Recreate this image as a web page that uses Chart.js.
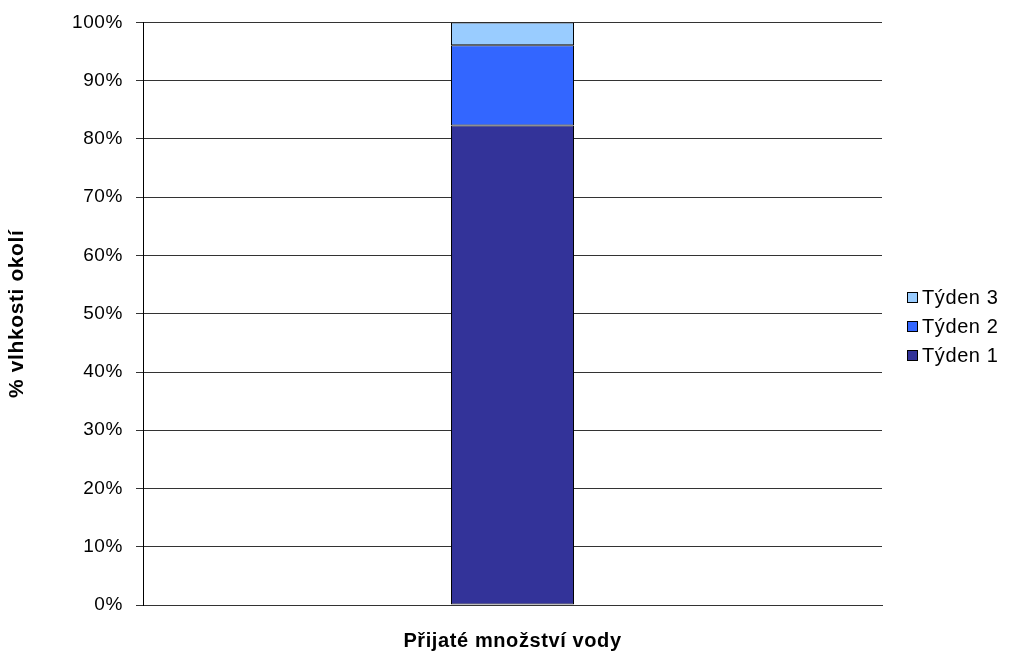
<!DOCTYPE html>
<html>
<head>
<meta charset="utf-8">
<script src="https://cdn.jsdelivr.net/npm/chart.js@4/dist/chart.umd.min.js"></script>
<style>
  html, body { margin: 0; padding: 0; background: #fff; }
  #wrap { width: 1011px; height: 653px; position: relative; }
</style>
</head>
<body>
<div id="wrap"><canvas id="c" width="1011" height="653"></canvas></div>
<script>
// Podíl vlhkosti okolí přijaté v jednotlivých týdnech
const categories = ['Přijaté množství vody'];
const seriesNames = ['Týden 1', 'Týden 2', 'Týden 3'];
const week1 = [82.3];
const week2 = [13.8];
const week3 = [3.9];
const seriesColors = ['#333399', '#3366FF', '#99CCFF'];
const yTicks = [0, 10, 20, 30, 40, 50, 60, 70, 80, 90, 100];

const FONT = 'Liberation Sans, Arial, sans-serif';

// Slightly wider tracking for all chart text
const tracking = {
  id: 'tracking',
  beforeDraw(chart) { chart.ctx.letterSpacing = '0.6px'; },
  afterDraw(chart) { chart.ctx.letterSpacing = '0px'; }
};

// Legend drawn at the right, last series on top
const sideLegend = {
  id: 'sideLegend',
  afterDraw(chart) {
    const ctx = chart.ctx;
    const ds = chart.data.datasets;
    const x = 907, y0 = 297, step = 29, box = 10;
    ctx.save();
    ctx.letterSpacing = '0.6px';
    ctx.font = '20px ' + FONT;
    ctx.textBaseline = 'middle';
    ctx.textAlign = 'left';
    for (let i = ds.length - 1, row = 0; i >= 0; i--, row++) {
      const cy = Math.round(y0 + row * step);
      ctx.fillStyle = ds[i].backgroundColor;
      ctx.fillRect(x + 0.5, cy - box / 2 + 0.5, box, box);
      ctx.strokeStyle = '#000';
      ctx.lineWidth = 1;
      ctx.strokeRect(x + 0.5, cy - box / 2 + 0.5, box, box);
      ctx.fillStyle = '#000';
      ctx.fillText(ds[i].label, x + 15, cy + 1);
    }
    ctx.restore();
  }
};

const values = [week1, week2, week3];
new Chart(document.getElementById('c'), {
  type: 'bar',
  data: {
    labels: categories,
    datasets: seriesNames.map((name, i) => ({
      label: name,
      data: values[i],
      backgroundColor: seriesColors[i],
      borderColor: '#000',
      borderWidth: 1,
      borderSkipped: false,
      categoryPercentage: 0.5,
      barPercentage: 0.333
    }))
  },
  options: {
    responsive: false,
    animation: false,
    layout: { padding: { left: 0, right: 129, top: 22, bottom: 0 } },
    plugins: { legend: { display: false }, tooltip: { enabled: false } },
    scales: {
      x: {
        stacked: true,
        grid: { display: false },
        border: { display: true, color: '#333', width: 1 },
        ticks: { display: false },
        title: {
          display: true,
          text: categories[0],
          color: '#000',
          font: { family: FONT, size: 20, weight: 'bold' },
          padding: { top: 0, bottom: 0 }
        },
        afterFit(s) { s.height = 48; }
      },
      y: {
        stacked: true,
        min: 0,
        max: 100,
        afterBuildTicks(s) { s.ticks = yTicks.map(v => ({ value: v })); },
        ticks: {
          color: '#000',
          font: { family: FONT, size: 19, lineHeight: 1 },
          padding: 13,
          callback: v => v + '%'
        },
        grid: { color: '#333', lineWidth: 1, tickLength: 7, drawTicks: true, tickColor: '#333' },
        border: { display: true, color: '#000', width: 1 },
        title: {
          display: true,
          text: '% vlhkosti okolí',
          color: '#000',
          font: { family: FONT, size: 21, weight: 'bold' },
          padding: { top: 5, bottom: 0 }
        },
        afterFit(s) { s.width = 143; }
      }
    }
  },
  plugins: [tracking, sideLegend]
});
</script>
</body>
</html>
